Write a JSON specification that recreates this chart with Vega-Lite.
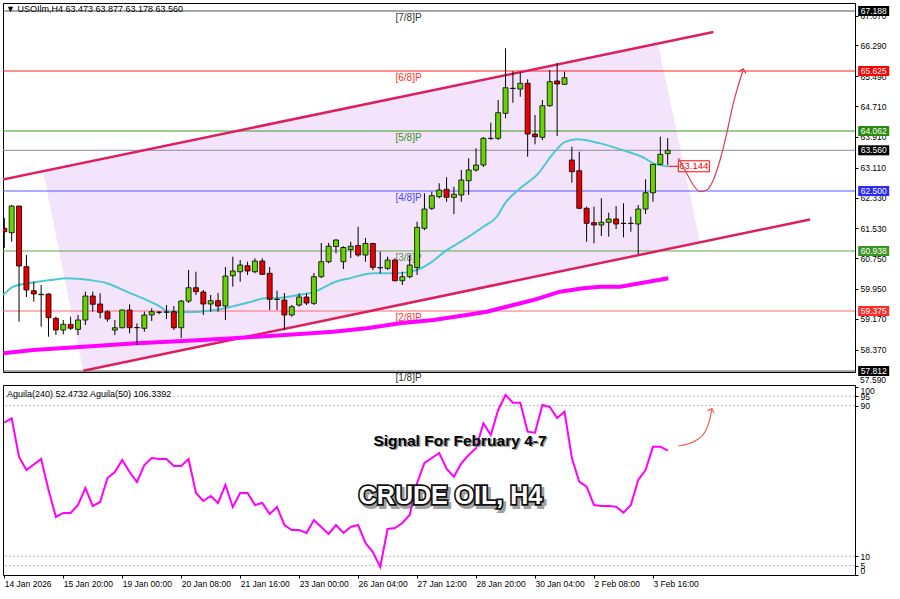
{
"$schema": "https://vega.github.io/schema/vega-lite/v6.json",
"background": "white",
"padding": {"left": 2, "top": 2, "right": 0, "bottom": 0},
"bounds": "flush",
"spacing": 13,
"config": {"view": {"stroke": "#000", "strokeWidth": 1}, "font": "Liberation Sans",
  "axis": {"labelFont": "Liberation Sans", "labelFontSize": 8.5, "labelColor": "#000", "tickColor": "#000", "domain": false, "grid": false, "labelOverlap": false}},
"datasets": {
 "one": [{}],
 "levels": [
  {"level": "[7/8]P", "price": 67.188}, {"level": "[6/8]P", "price": 65.625}, {"level": "[5/8]P", "price": 64.062},
  {"level": "[4/8]P", "price": 62.5}, {"level": "[3/8]P", "price": 60.938}, {"level": "[2/8]P", "price": 59.375},
  {"level": "[1/8]P", "price": 57.812}, {"level": "last", "price": 63.56}],
 "zone": [
  {"i": 5.25, "top": 63.02, "bottom": 63.02}, {"i": 10.68, "top": 63.23, "bottom": 57.84},
  {"i": 88.68, "top": 66.34, "bottom": 60.94}, {"i": 94.38, "top": 61.17, "bottom": 61.17}],
 "channel": [
  {"line": "upper", "i": -0.5, "p": 62.787}, {"line": "upper", "i": 96.2, "p": 66.64},
  {"line": "lower", "i": 10.72, "p": 57.82}, {"line": "lower", "i": 109.3, "p": 61.76}],
 "candles": [
  {"i":0,"o":61.529,"h":61.797,"l":61.016,"c":61.44},
  {"i":1,"o":61.414,"h":62.135,"l":61.18,"c":62.109},
  {"i":2,"o":62.109,"h":62.12,"l":59.096,"c":60.547},
  {"i":3,"o":60.529,"h":60.833,"l":59.74,"c":59.922},
  {"i":4,"o":59.904,"h":60.138,"l":59.617,"c":59.818},
  {"i":5,"o":59.81,"h":60.052,"l":58.966,"c":59.8},
  {"i":6,"o":59.818,"h":59.836,"l":58.706,"c":59.201},
  {"i":7,"o":59.185,"h":59.227,"l":58.75,"c":58.88},
  {"i":8,"o":58.88,"h":59.141,"l":58.768,"c":59.029},
  {"i":9,"o":59.029,"h":59.227,"l":58.88,"c":58.925},
  {"i":10,"o":58.898,"h":59.271,"l":58.75,"c":59.141},
  {"i":11,"o":59.141,"h":59.878,"l":59.01,"c":59.766},
  {"i":12,"o":59.766,"h":59.878,"l":59.357,"c":59.55},
  {"i":13,"o":59.557,"h":59.836,"l":59.185,"c":59.341},
  {"i":14,"o":59.357,"h":59.401,"l":59.096,"c":59.167},
  {"i":15,"o":58.88,"h":59.141,"l":58.75,"c":58.94},
  {"i":16,"o":58.94,"h":59.41,"l":58.925,"c":59.401},
  {"i":17,"o":59.401,"h":59.55,"l":58.794,"c":58.94},
  {"i":18,"o":58.945,"h":59.055,"l":58.49,"c":58.94},
  {"i":19,"o":58.925,"h":59.357,"l":58.836,"c":59.271},
  {"i":20,"o":59.271,"h":59.445,"l":59.115,"c":59.357},
  {"i":21,"o":59.341,"h":59.37,"l":59.29,"c":59.345},
  {"i":22,"o":59.349,"h":59.531,"l":59.167,"c":59.345},
  {"i":23,"o":59.357,"h":59.505,"l":58.88,"c":58.94},
  {"i":24,"o":58.94,"h":59.661,"l":58.672,"c":59.635},
  {"i":25,"o":59.635,"h":60.443,"l":59.583,"c":59.982},
  {"i":26,"o":59.982,"h":60.398,"l":59.792,"c":59.878},
  {"i":27,"o":59.87,"h":59.922,"l":59.271,"c":59.557},
  {"i":28,"o":59.557,"h":59.792,"l":59.357,"c":59.643},
  {"i":29,"o":59.643,"h":59.844,"l":59.357,"c":59.505},
  {"i":30,"o":59.505,"h":60.521,"l":59.141,"c":60.286},
  {"i":31,"o":60.294,"h":60.789,"l":60.008,"c":60.417},
  {"i":32,"o":60.398,"h":60.703,"l":60.138,"c":60.573},
  {"i":33,"o":60.555,"h":60.659,"l":60.313,"c":60.417},
  {"i":34,"o":60.398,"h":60.747,"l":60.357,"c":60.677},
  {"i":35,"o":60.677,"h":60.747,"l":60.313,"c":60.331},
  {"i":36,"o":60.357,"h":60.521,"l":59.401,"c":59.68},
  {"i":37,"o":59.68,"h":59.904,"l":59.401,"c":59.675},
  {"i":38,"o":59.661,"h":59.844,"l":58.88,"c":59.271},
  {"i":39,"o":59.271,"h":59.531,"l":59.227,"c":59.487},
  {"i":40,"o":59.531,"h":59.836,"l":59.487,"c":59.74},
  {"i":41,"o":59.74,"h":59.836,"l":59.531,"c":59.583},
  {"i":42,"o":59.575,"h":60.365,"l":59.531,"c":60.268},
  {"i":43,"o":60.268,"h":61.146,"l":60.235,"c":60.659},
  {"i":44,"o":60.659,"h":61.15,"l":60.617,"c":61.064},
  {"i":45,"o":61.055,"h":61.242,"l":60.878,"c":61.224},
  {"i":46,"o":60.659,"h":61.063,"l":60.469,"c":61.029},
  {"i":47,"o":60.977,"h":61.18,"l":60.755,"c":61.063},
  {"i":48,"o":61.082,"h":61.57,"l":60.789,"c":60.833},
  {"i":49,"o":60.833,"h":61.276,"l":60.659,"c":61.134},
  {"i":50,"o":61.134,"h":61.15,"l":60.443,"c":60.513},
  {"i":51,"o":60.505,"h":60.92,"l":60.357,"c":60.5},
  {"i":52,"o":60.487,"h":60.789,"l":60.443,"c":60.703},
  {"i":53,"o":60.703,"h":60.747,"l":60.15,"c":60.164},
  {"i":54,"o":60.164,"h":60.398,"l":60.052,"c":60.268},
  {"i":55,"o":60.268,"h":60.833,"l":60.227,"c":60.573},
  {"i":56,"o":60.505,"h":61.701,"l":60.313,"c":61.555},
  {"i":57,"o":61.529,"h":62.44,"l":61.484,"c":62.031},
  {"i":58,"o":62.05,"h":62.482,"l":62.005,"c":62.378},
  {"i":59,"o":62.352,"h":62.701,"l":62.31,"c":62.526},
  {"i":60,"o":62.544,"h":62.857,"l":62.221,"c":62.336},
  {"i":61,"o":62.336,"h":62.612,"l":61.901,"c":62.414},
  {"i":62,"o":62.396,"h":63.047,"l":62.221,"c":62.787},
  {"i":63,"o":62.768,"h":63.352,"l":62.396,"c":63.047},
  {"i":64,"o":63.047,"h":63.612,"l":63.003,"c":63.177},
  {"i":65,"o":63.177,"h":63.906,"l":63.125,"c":63.872},
  {"i":66,"o":63.872,"h":64.279,"l":63.828,"c":63.868},
  {"i":67,"o":63.872,"h":64.87,"l":63.828,"c":64.539},
  {"i":68,"o":64.524,"h":66.216,"l":64.393,"c":65.19},
  {"i":69,"o":65.175,"h":65.62,"l":64.8,"c":65.17},
  {"i":70,"o":65.155,"h":65.607,"l":64.956,"c":65.305},
  {"i":71,"o":65.305,"h":65.409,"l":63.393,"c":63.984},
  {"i":72,"o":63.984,"h":64.479,"l":63.716,"c":63.914},
  {"i":73,"o":63.898,"h":64.87,"l":63.828,"c":64.721},
  {"i":74,"o":64.721,"h":65.651,"l":64.695,"c":65.346},
  {"i":75,"o":65.365,"h":65.826,"l":63.932,"c":65.287},
  {"i":76,"o":65.279,"h":65.607,"l":65.26,"c":65.451},
  {"i":77,"o":63.307,"h":63.654,"l":62.716,"c":63.003},
  {"i":78,"o":63.029,"h":63.523,"l":62.04,"c":62.05},
  {"i":79,"o":62.05,"h":62.091,"l":61.18,"c":61.659},
  {"i":80,"o":61.675,"h":62.091,"l":61.138,"c":61.615},
  {"i":81,"o":61.615,"h":62.31,"l":61.328,"c":61.685},
  {"i":82,"o":61.685,"h":61.935,"l":61.31,"c":61.771},
  {"i":83,"o":61.771,"h":62.109,"l":61.51,"c":61.641},
  {"i":84,"o":61.66,"h":62.18,"l":61.294,"c":61.655},
  {"i":85,"o":61.66,"h":61.831,"l":61.44,"c":61.655},
  {"i":86,"o":61.641,"h":62.135,"l":60.859,"c":62.031},
  {"i":87,"o":62.031,"h":62.805,"l":61.901,"c":62.456},
  {"i":88,"o":62.456,"h":63.2,"l":62.221,"c":63.195},
  {"i":89,"o":63.195,"h":63.914,"l":63.177,"c":63.456},
  {"i":90,"o":63.473,"h":63.877,"l":63.178,"c":63.56}],
 "ma": [
  {"i":-0.14,"p":59.79},{"i":1.22,"p":60.01},{"i":3.93,"p":60.12},{"i":6.2,"p":60.18},{"i":8.47,"p":60.23},
  {"i":11.63,"p":60.18},{"i":13.89,"p":60.1},{"i":16.61,"p":59.88},{"i":19.32,"p":59.66},{"i":21.12,"p":59.49},
  {"i":22.25,"p":59.36},{"i":24.52,"p":59.34},{"i":28.59,"p":59.4},{"i":30.85,"p":59.49},{"i":33.56,"p":59.62},
  {"i":35.37,"p":59.71},{"i":36.72,"p":59.71},{"i":39.9,"p":59.79},{"i":42.15,"p":59.88},{"i":44.86,"p":60.13},
  {"i":46.9,"p":60.23},{"i":50.06,"p":60.36},{"i":53.24,"p":60.36},{"i":55.95,"p":60.44},{"i":57.75,"p":60.62},
  {"i":60.02,"p":60.96},{"i":62.27,"p":61.22},{"i":64.99,"p":61.57},{"i":66.81,"p":61.83},{"i":67.93,"p":62.18},
  {"i":69.73,"p":62.53},{"i":72.45,"p":62.96},{"i":74.48,"p":63.48},{"i":76.07,"p":63.78},{"i":77.66,"p":63.85},
  {"i":80.82,"p":63.74},{"i":83.76,"p":63.57},{"i":86.92,"p":63.35},{"i":88.05,"p":63.22},{"i":90.08,"p":63.14}],
 "ma200": [
  {"i":-0.14,"p":58.273},{"i":3.93,"p":58.359},{"i":10.72,"p":58.445},{"i":17.96,"p":58.534},{"i":24.28,"p":58.594},
  {"i":31.07,"p":58.664},{"i":40.12,"p":58.776},{"i":44.63,"p":58.836},{"i":49.17,"p":58.925},{"i":53.68,"p":59.055},
  {"i":58.2,"p":59.141},{"i":62.73,"p":59.271},{"i":65.45,"p":59.357},{"i":69.05,"p":59.531},{"i":71.77,"p":59.661},
  {"i":75.39,"p":59.878},{"i":78.55,"p":59.966},{"i":80.82,"p":60.008},{"i":83.53,"p":60.008},{"i":86.24,"p":60.096},
  {"i":90.08,"p":60.227}],
 "arrow1": [
  {"i":91.44,"p":63.352},{"i":92.58,"p":62.961},{"i":93.48,"p":62.656},{"i":94.38,"p":62.482},{"i":95.29,"p":62.526},
  {"i":96.19,"p":62.787},{"i":97.1,"p":63.307},{"i":98.01,"p":64.003},{"i":98.9,"p":64.784},{"i":99.8,"p":65.391},
  {"i":100.24,"p":65.651}],
 "guides": [{"v":95},{"v":90},{"v":10},{"v":5}],
 "agu": [
  {"i":0,"v":80.97},{"i":1,"v":83.31},{"i":2,"v":62.73},{"i":3,"v":55.82},{"i":5,"v":61.67},{"i":6,"v":45.19},
  {"i":7,"v":30.83},{"i":8,"v":32.96},{"i":9,"v":32.96},{"i":10,"v":37.21},{"i":11,"v":46.25},{"i":12,"v":36.68},
  {"i":13,"v":38.81},{"i":14,"v":51.57},{"i":15,"v":54.76},{"i":16,"v":61.14},{"i":17,"v":54.76},{"i":18,"v":49.44},
  {"i":19,"v":58.48},{"i":20,"v":62.2},{"i":21,"v":61.67},{"i":22,"v":61.67},{"i":23,"v":57.95},{"i":24,"v":57.95},
  {"i":25,"v":61.67},{"i":26,"v":43.59},{"i":27,"v":39.34},{"i":28,"v":42.0},{"i":29,"v":38.28},{"i":30,"v":47.85},
  {"i":31,"v":36.15},{"i":32,"v":43.59},{"i":33,"v":43.59},{"i":34,"v":37.21},{"i":35,"v":38.28},{"i":36,"v":32.43},
  {"i":37,"v":36.15},{"i":38,"v":26.58},{"i":39,"v":23.92},{"i":40,"v":23.92},{"i":41,"v":22.33},{"i":42,"v":29.24},
  {"i":43,"v":25.52},{"i":44,"v":21.8},{"i":45,"v":26.58},{"i":46,"v":22.33},{"i":47,"v":25.52},{"i":48,"v":26.58},
  {"i":49,"v":17.01},{"i":50,"v":12.23},{"i":51,"v":4.25},{"i":52,"v":24.46},{"i":53,"v":24.99},{"i":54,"v":27.64},
  {"i":55,"v":31.9},{"i":56,"v":48.91},{"i":57,"v":59.54},{"i":58,"v":62.2},{"i":59,"v":64.86},{"i":60,"v":56.5},
  {"i":61,"v":52.26},{"i":62,"v":59.38},{"i":63,"v":63.8},{"i":64,"v":67.36},{"i":65,"v":80.65},{"i":66,"v":74.43},
  {"i":67,"v":87.72},{"i":68,"v":95.69},{"i":69,"v":91.6},{"i":70,"v":91.6},{"i":71,"v":76.18},{"i":72,"v":75.65},
  {"i":73,"v":90.38},{"i":74,"v":89.31},{"i":75,"v":83.47},{"i":76,"v":86.82},{"i":77,"v":62.2},{"i":78,"v":49.6},
  {"i":79,"v":46.94},{"i":80,"v":37.21},{"i":81,"v":36.68},{"i":82,"v":36.68},{"i":83,"v":36.31},{"i":84,"v":33.12},
  {"i":85,"v":37.21},{"i":86,"v":50.51},{"i":87,"v":55.82},{"i":88,"v":68.21},{"i":89,"v":68.21},{"i":90,"v":66.08}],
 "arrow2": [
  {"i":91.44,"v":68.58},{"i":93.94,"v":71.77},{"i":95.07,"v":76.18},{"i":95.74,"v":83.31},{"i":95.97,"v":88.09}]
},
"vconcat": [
 {
  "width": 852, "height": 369,
  "resolve": {"axis": {"x": "independent", "y": "independent"}},
  "layer": [
   {"data": {"name": "zone"}, "mark": {"type": "area", "color": "#f3e3fb", "orient": "vertical"},
    "encoding": {
     "x": {"field": "i", "type": "quantitative", "scale": {"domain": [-0.176, 115.41], "nice": false, "zero": false, "padding": 0}, "axis": null},
     "y": {"field": "top", "type": "quantitative", "scale": {"domain": [57.787, 67.396], "nice": false, "zero": false, "padding": 0},
       "axis": {"orient": "right", "title": null, "values": [67.07,66.29,65.49,64.71,63.91,63.11,62.33,61.53,60.75,59.95,59.17,58.37], "format": ".3f", "tickSize": 3, "labelPadding": 2, "labelAlign": "left", "labelBaseline": "middle"}},
     "y2": {"field": "bottom"}}},
   {"data": {"name": "levels"}, "mark": {"type": "rule", "strokeWidth": 1, "clip": true},
    "encoding": {
     "y": {"field": "price", "type": "quantitative", "scale": {"domain": [57.787, 67.396], "nice": false, "zero": false, "padding": 0}, "axis": null},
     "stroke": {"field": "level", "type": "nominal", "legend": null, "scale": {"domain": ["[7/8]P","[6/8]P","[5/8]P","[4/8]P","[3/8]P","[2/8]P","[1/8]P","last"], "range": ["#505050","#ff2020","#3d9a25","#5858ff","#60a64c","#ff6b6b","#505050","#8c8c9c"]}}}},
   {"data": {"name": "levels"}, "transform": [{"filter": "datum.level !== 'last'"}],
    "mark": {"type": "text", "fontSize": 10, "align": "center", "baseline": "middle", "dy": 7},
    "encoding": {
     "x": {"datum": 54.84, "type": "quantitative", "scale": {"domain": [-0.176, 115.41], "nice": false, "zero": false, "padding": 0}, "axis": null},
     "y": {"field": "price", "type": "quantitative", "scale": {"domain": [57.787, 67.396], "nice": false, "zero": false, "padding": 0}, "axis": null},
     "text": {"field": "level"},
     "color": {"field": "level", "type": "nominal", "legend": null, "scale": {"domain": ["[7/8]P","[6/8]P","[5/8]P","[4/8]P","[3/8]P","[2/8]P","[1/8]P"], "range": ["#303030","#ff3030","#3d8f25","#4848ff","#5f8f4f","#ff3535","#303030"]}}}},
   {"data": {"name": "channel"}, "mark": {"type": "line", "color": "#dc1f5f", "strokeWidth": 2.5, "clip": true},
    "encoding": {
     "x": {"field": "i", "type": "quantitative", "scale": {"domain": [-0.176, 115.41], "nice": false, "zero": false, "padding": 0}, "axis": null},
     "y": {"field": "p", "type": "quantitative", "scale": {"domain": [57.787, 67.396], "nice": false, "zero": false, "padding": 0}, "axis": null},
     "detail": {"field": "line"}}},
   {"data": {"name": "ma200"}, "mark": {"type": "line", "color": "#ff00ff", "strokeWidth": 4, "clip": true},
    "encoding": {
     "x": {"field": "i", "type": "quantitative", "scale": {"domain": [-0.176, 115.41], "nice": false, "zero": false, "padding": 0}, "axis": null},
     "y": {"field": "p", "type": "quantitative", "scale": {"domain": [57.787, 67.396], "nice": false, "zero": false, "padding": 0}, "axis": null}}},
   {"data": {"name": "ma"}, "mark": {"type": "line", "color": "#4cc9d0", "strokeWidth": 2, "interpolate": "monotone", "clip": true},
    "encoding": {
     "x": {"field": "i", "type": "quantitative", "scale": {"domain": [-0.176, 115.41], "nice": false, "zero": false, "padding": 0}, "axis": null},
     "y": {"field": "p", "type": "quantitative", "scale": {"domain": [57.787, 67.396], "nice": false, "zero": false, "padding": 0}, "axis": null}}},
   {"data": {"name": "candles"}, "mark": {"type": "rule", "color": "#000", "strokeWidth": 1, "clip": true},
    "encoding": {
     "x": {"field": "i", "type": "quantitative", "scale": {"domain": [-0.176, 115.41], "nice": false, "zero": false, "padding": 0}, "axis": null},
     "y": {"field": "l", "type": "quantitative", "scale": {"domain": [57.787, 67.396], "nice": false, "zero": false, "padding": 0}, "axis": null},
     "y2": {"field": "h"}}},
   {"data": {"name": "candles"}, "mark": {"type": "bar", "orient": "vertical", "size": 5, "stroke": "#000", "strokeWidth": 0.8, "clip": true},
    "encoding": {
     "x": {"field": "i", "type": "quantitative", "scale": {"domain": [-0.176, 115.41], "nice": false, "zero": false, "padding": 0}, "axis": null},
     "y": {"field": "o", "type": "quantitative", "scale": {"domain": [57.787, 67.396], "nice": false, "zero": false, "padding": 0}, "axis": null},
     "y2": {"field": "c"},
     "fill": {"condition": {"test": "datum.c >= datum.o", "value": "#66d400"}, "value": "#e80000"}}},
   {"data": {"name": "one"}, "mark": {"type": "rule", "color": "#ff0000", "strokeWidth": 1}, "encoding": {
     "x": {"datum": 90.08, "type": "quantitative", "scale": {"domain": [-0.176, 115.41], "nice": false, "zero": false, "padding": 0}, "axis": null},
     "x2": {"datum": 91.44},
     "y": {"datum": 63.144, "type": "quantitative", "scale": {"domain": [57.787, 67.396], "nice": false, "zero": false, "padding": 0}, "axis": null}}},
   {"data": {"name": "one"}, "mark": {"type": "bar", "orient": "horizontal", "size": 11, "fill": "white", "stroke": "#ff0000", "strokeWidth": 1}, "encoding": {
     "x": {"datum": 91.44, "type": "quantitative", "scale": {"domain": [-0.176, 115.41], "nice": false, "zero": false, "padding": 0}, "axis": null},
     "x2": {"datum": 95.65},
     "y": {"datum": 63.144, "type": "quantitative", "scale": {"domain": [57.787, 67.396], "nice": false, "zero": false, "padding": 0}, "axis": null}}},
   {"data": {"name": "one"}, "mark": {"type": "text", "fontSize": 9.5, "color": "#ff0000", "align": "center", "baseline": "middle", "text": "63.144"}, "encoding": {
     "x": {"datum": 93.54, "type": "quantitative", "scale": {"domain": [-0.176, 115.41], "nice": false, "zero": false, "padding": 0}, "axis": null},
     "y": {"datum": 63.144, "type": "quantitative", "scale": {"domain": [57.787, 67.396], "nice": false, "zero": false, "padding": 0}, "axis": null}}},
   {"data": {"name": "arrow1"}, "mark": {"type": "line", "color": "#e23a55", "strokeWidth": 1.2, "interpolate": "monotone"},
    "encoding": {
     "x": {"field": "i", "type": "quantitative", "scale": {"domain": [-0.176, 115.41], "nice": false, "zero": false, "padding": 0}, "axis": null},
     "y": {"field": "p", "type": "quantitative", "scale": {"domain": [57.787, 67.396], "nice": false, "zero": false, "padding": 0}, "axis": null}}},
   {"data": {"name": "one"}, "mark": {"type": "point", "shape": "M-1,1L0,0L1,1", "size": 60, "filled": false, "stroke": "#e23a55", "strokeWidth": 1.2, "angle": 14, "opacity": 1}, "encoding": {
     "x": {"datum": 100.24, "type": "quantitative", "scale": {"domain": [-0.176, 115.41], "nice": false, "zero": false, "padding": 0}, "axis": null},
     "y": {"datum": 65.68, "type": "quantitative", "scale": {"domain": [57.787, 67.396], "nice": false, "zero": false, "padding": 0}, "axis": null}}},
   {"data": {"name": "levels"}, "mark": {"type": "bar", "orient": "horizontal", "size": 10},
    "encoding": {
     "x": {"datum": 115.84, "type": "quantitative", "scale": {"domain": [-0.176, 115.41], "nice": false, "zero": false, "padding": 0}, "axis": null},
     "x2": {"datum": 120.05},
     "y": {"field": "price", "type": "quantitative", "scale": {"domain": [57.787, 67.396], "nice": false, "zero": false, "padding": 0}, "axis": null},
     "fill": {"field": "level", "type": "nominal", "legend": null, "scale": {"domain": ["[7/8]P","[6/8]P","[5/8]P","[4/8]P","[3/8]P","[2/8]P","[1/8]P","last"], "range": ["#000000","#ff0000","#2b8a0c","#2a2aff","#3a9620","#ff2a2a","#000000","#000000"]}}}},
   {"data": {"name": "levels"}, "mark": {"type": "text", "fontSize": 8.5, "color": "white", "align": "center", "baseline": "middle"},
    "encoding": {
     "x": {"datum": 117.95, "type": "quantitative", "scale": {"domain": [-0.176, 115.41], "nice": false, "zero": false, "padding": 0}, "axis": null},
     "y": {"field": "price", "type": "quantitative", "scale": {"domain": [57.787, 67.396], "nice": false, "zero": false, "padding": 0}, "axis": null},
     "text": {"field": "price", "type": "quantitative", "format": ".3f"}}},
   {"data": {"name": "one"}, "mark": {"type": "text", "fontSize": 8.5, "color": "#000", "align": "left", "baseline": "middle", "text": "57.590"}, "encoding": {
     "x": {"datum": 116.1, "type": "quantitative", "scale": {"domain": [-0.176, 115.41], "nice": false, "zero": false, "padding": 0}, "axis": null},
     "y": {"datum": 57.59, "type": "quantitative", "scale": {"domain": [57.787, 67.396], "nice": false, "zero": false, "padding": 0}, "axis": null}}},
   {"data": {"name": "one"}, "mark": {"type": "text", "fontSize": 9, "color": "#000", "align": "left", "baseline": "middle", "text": "▼ USOIlm,H4  63.473 63.877 63.178 63.560"}, "encoding": {
     "x": {"datum": 0.23, "type": "quantitative", "scale": {"domain": [-0.176, 115.41], "nice": false, "zero": false, "padding": 0}, "axis": null},
     "y": {"datum": 67.24, "type": "quantitative", "scale": {"domain": [57.787, 67.396], "nice": false, "zero": false, "padding": 0}, "axis": null}}}
  ]
 },
 {
  "width": 852, "height": 190,
  "resolve": {"axis": {"x": "independent", "y": "independent"}},
  "layer": [
   {"data": {"name": "guides"}, "mark": {"type": "rule", "color": "#b8b8b8", "strokeDash": [2, 2], "strokeWidth": 1, "clip": true},
    "encoding": {
     "y": {"field": "v", "type": "quantitative", "scale": {"domain": [0, 101], "nice": false, "zero": false, "padding": 0}, "axis": null}}},
   {"data": {"name": "agu"}, "mark": {"type": "line", "color": "#ff00ff", "strokeWidth": 2, "clip": true},
    "encoding": {
     "x": {"field": "i", "type": "quantitative", "scale": {"domain": [-0.176, 115.41], "nice": false, "zero": false, "padding": 0},
       "axis": {"orient": "bottom", "title": null, "values": [0,8,16,24,32,40,48,56,64,72,80,88], "labelExpr": "['14 Jan 2026','15 Jan 20:00','19 Jan 00:00','20 Jan 08:00','21 Jan 16:00','23 Jan 00:00','26 Jan 04:00','27 Jan 12:00','28 Jan 20:00','30 Jan 04:00','2 Feb 08:00','3 Feb 16:00'][round(datum.value/8)]", "labelAlign": "left", "labelFlush": false, "tickSize": 3, "labelPadding": 1}},
     "y": {"field": "v", "type": "quantitative", "scale": {"domain": [0, 101], "nice": false, "zero": false, "padding": 0},
       "axis": {"orient": "right", "title": null, "values": [100,95,90,10,5,0], "format": "d", "tickSize": 3, "labelPadding": 2, "labelFlush": 5, "labelAlign": "left"}}}},
   {"data": {"name": "arrow2"}, "mark": {"type": "line", "color": "#f0604a", "strokeWidth": 1.2, "interpolate": "monotone"},
    "encoding": {
     "x": {"field": "i", "type": "quantitative", "scale": {"domain": [-0.176, 115.41], "nice": false, "zero": false, "padding": 0}, "axis": null},
     "y": {"field": "v", "type": "quantitative", "scale": {"domain": [0, 101], "nice": false, "zero": false, "padding": 0}, "axis": null}}},
   {"data": {"name": "one"}, "mark": {"type": "point", "shape": "M-1,1L0,0L1,1", "size": 50, "filled": false, "stroke": "#f0604a", "strokeWidth": 1.2, "angle": 20, "opacity": 1}, "encoding": {
     "x": {"datum": 96.0, "type": "quantitative", "scale": {"domain": [-0.176, 115.41], "nice": false, "zero": false, "padding": 0}, "axis": null},
     "y": {"datum": 88.5, "type": "quantitative", "scale": {"domain": [0, 101], "nice": false, "zero": false, "padding": 0}, "axis": null}}},
   {"data": {"name": "one"}, "mark": {"type": "text", "fontSize": 9, "color": "#000", "align": "left", "baseline": "middle", "text": "Aguila(240) 52.4732  Aguila(50) 106.3392"}, "encoding": {
     "x": {"datum": 0.37, "type": "quantitative", "scale": {"domain": [-0.176, 115.41], "nice": false, "zero": false, "padding": 0}, "axis": null},
     "y": {"datum": 96.2, "type": "quantitative", "scale": {"domain": [0, 101], "nice": false, "zero": false, "padding": 0}, "axis": null}}},
   {"data": {"name": "one"}, "mark": {"type": "text", "fontSize": 15.5, "fontWeight": "bold", "color": "#9a9a9a", "align": "center", "baseline": "middle", "dx": 1.5, "dy": 1.5, "text": "Signal For February 4-7"}, "encoding": {
     "x": {"datum": 61.82, "type": "quantitative", "scale": {"domain": [-0.176, 115.41], "nice": false, "zero": false, "padding": 0}, "axis": null},
     "y": {"datum": 71.24, "type": "quantitative", "scale": {"domain": [0, 101], "nice": false, "zero": false, "padding": 0}, "axis": null}}},
   {"data": {"name": "one"}, "mark": {"type": "text", "fontSize": 15.5, "fontWeight": "bold", "color": "#000", "align": "center", "baseline": "middle", "text": "Signal For February 4-7"}, "encoding": {
     "x": {"datum": 61.82, "type": "quantitative", "scale": {"domain": [-0.176, 115.41], "nice": false, "zero": false, "padding": 0}, "axis": null},
     "y": {"datum": 71.24, "type": "quantitative", "scale": {"domain": [0, 101], "nice": false, "zero": false, "padding": 0}, "axis": null}}},
   {"data": {"name": "one"}, "mark": {"type": "text", "fontSize": 25, "fontWeight": "bold", "fill": "#555", "stroke": "#555", "strokeWidth": 4, "opacity": 0.55, "align": "center", "baseline": "middle", "dx": 2.5, "dy": 3, "text": "CRUDE OIL, H4"}, "encoding": {
     "x": {"datum": 60.53, "type": "quantitative", "scale": {"domain": [-0.176, 115.41], "nice": false, "zero": false, "padding": 0}, "axis": null},
     "y": {"datum": 42.0, "type": "quantitative", "scale": {"domain": [0, 101], "nice": false, "zero": false, "padding": 0}, "axis": null}}},
   {"data": {"name": "one"}, "mark": {"type": "text", "fontSize": 25, "fontWeight": "bold", "fill": "#111", "stroke": "#111", "strokeWidth": 3.5, "align": "center", "baseline": "middle", "text": "CRUDE OIL, H4"}, "encoding": {
     "x": {"datum": 60.53, "type": "quantitative", "scale": {"domain": [-0.176, 115.41], "nice": false, "zero": false, "padding": 0}, "axis": null},
     "y": {"datum": 42.0, "type": "quantitative", "scale": {"domain": [0, 101], "nice": false, "zero": false, "padding": 0}, "axis": null}}},
   {"data": {"name": "one"}, "mark": {"type": "text", "fontSize": 25, "fontWeight": "bold", "fill": "#ffffff", "align": "center", "baseline": "middle", "text": "CRUDE OIL, H4"}, "encoding": {
     "x": {"datum": 60.53, "type": "quantitative", "scale": {"domain": [-0.176, 115.41], "nice": false, "zero": false, "padding": 0}, "axis": null},
     "y": {"datum": 42.0, "type": "quantitative", "scale": {"domain": [0, 101], "nice": false, "zero": false, "padding": 0}, "axis": null}}}
  ]
 }
]
}
